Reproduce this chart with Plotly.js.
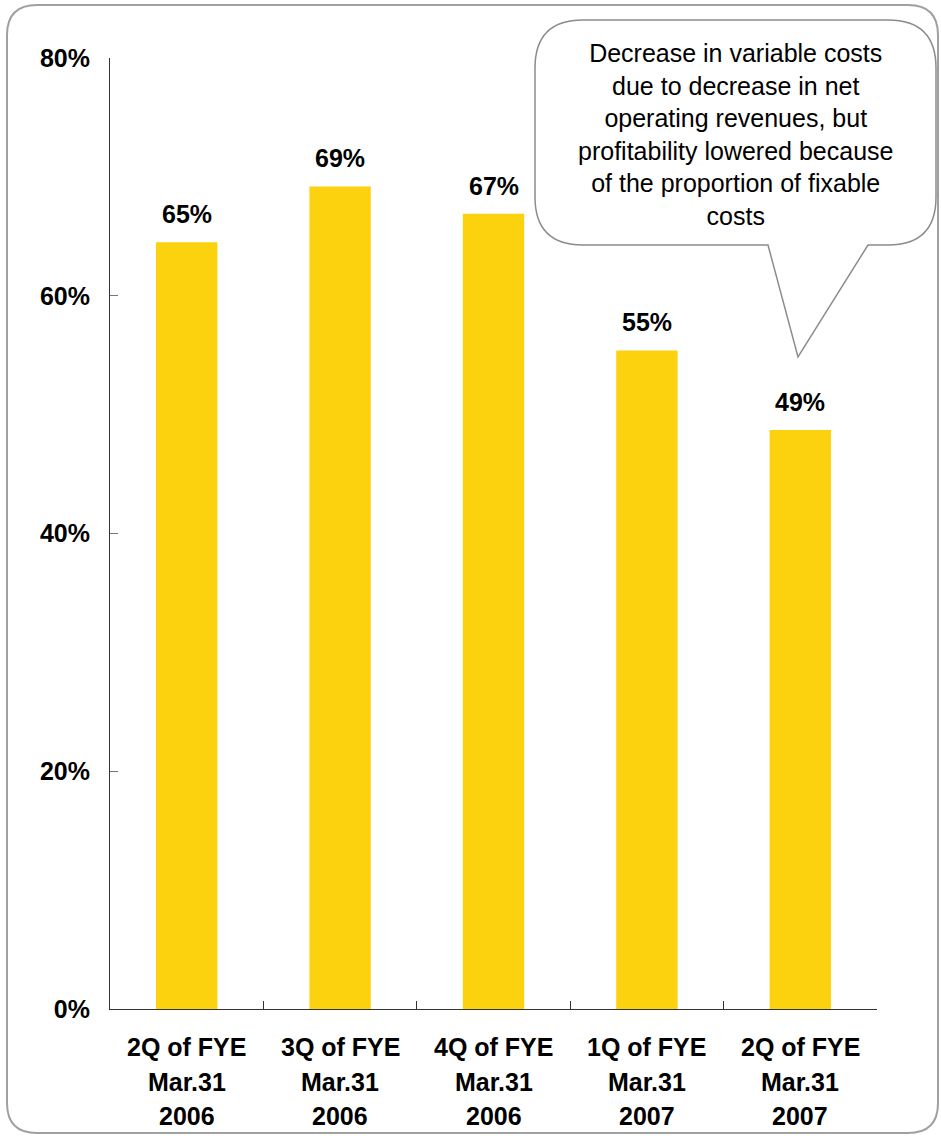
<!DOCTYPE html>
<html>
<head>
<meta charset="utf-8">
<script src="https://cdn.plot.ly/plotly-3.0.1.min.js"></script>
<style>html,body{margin:0;padding:0;background:#fff;}#chart{width:941px;height:1136px;}</style>
</head>
<body>
<div id="chart"></div>
<script>
// ---- data ----
const categories = ["2Q of FYE<br>Mar.31<br>2006", "3Q of FYE<br>Mar.31<br>2006", "4Q of FYE<br>Mar.31<br>2006", "1Q of FYE<br>Mar.31<br>2007", "2Q of FYE<br>Mar.31<br>2007"];
const values = [64.5, 69.2, 66.9, 55.4, 48.7];
const valueLabels = ["65%", "69%", "67%", "55%", "49%"];
const yTickVals = [0, 20, 40, 60, 80];
const yTickText = ["0%", "20%", "40%", "60%", "80%"];
const calloutLines = ["Decrease in variable costs", "due to decrease in net", "operating revenues, but", "profitability lowered because", "of the proportion of fixable", "costs"];

// ---- layout geometry ----
const W = 941, H = 1136;
const M = {l: 110, r: 64, t: 58, b: 127};
const PW = W - M.l - M.r, PH = H - M.t - M.b;
const px = x => (x - M.l) / PW;
const py = y => (H - M.b - y) / PH;
const FONT = "Liberation Sans, Arial, Helvetica, sans-serif";

function roundRectPath(x0, y0, x1, y1, r, tail) {
  let p = `M${px(x0 + r)},${py(y0)} L${px(x1 - r)},${py(y0)} Q${px(x1)},${py(y0)} ${px(x1)},${py(y0 + r)} `;
  p += `L${px(x1)},${py(y1 - r)} Q${px(x1)},${py(y1)} ${px(x1 - r)},${py(y1)} `;
  if (tail) {
    p += `L${px(tail[2])},${py(y1)} L${px(tail[1][0])},${py(tail[1][1])} L${px(tail[0])},${py(y1)} `;
  }
  p += `L${px(x0 + r)},${py(y1)} Q${px(x0)},${py(y1)} ${px(x0)},${py(y1 - r)} `;
  p += `L${px(x0)},${py(y0 + r)} Q${px(x0)},${py(y0)} ${px(x0 + r)},${py(y0)} Z`;
  return p;
}

const shapes = [
  {type: "path", xref: "paper", yref: "paper", layer: "below",
   path: roundRectPath(7, 5, 938, 1133, 30), line: {color: "#A0A0A0", width: 2}, fillcolor: "rgba(0,0,0,0)"},
  {type: "path", xref: "paper", yref: "paper", layer: "above",
   path: roundRectPath(535, 20, 936, 245, 48, [768, [798, 357], 868]), line: {color: "#8C8C8C", width: 1.5}, fillcolor: "#FFFFFF"}
];

const annotations = [];
// value labels
categories.forEach((c, i) => {
  annotations.push({x: c, y: values[i], xref: "x", yref: "y", text: valueLabels[i], showarrow: false,
    yanchor: "bottom", yshift: 12, font: {family: FONT, size: 25, color: "#000", weight: 700}});
});
// category labels, one annotation per line
const lineOffsets = [-38, -73, -107];
categories.forEach((c) => {
  c.split("<br>").forEach((t, k) => {
    annotations.push({x: c, y: 0, xref: "x", yref: "paper", text: t, showarrow: false,
      yanchor: "middle", yshift: lineOffsets[k], font: {family: FONT, size: 25, color: "#000", weight: 700}});
  });
});
// callout text
annotations.push({x: px(735), y: py(134.5), xref: "paper", yref: "paper", text: calloutLines.join("<br>"),
  showarrow: false, align: "center", xanchor: "center", yanchor: "middle",
  font: {family: FONT, size: 25, color: "#000"}});

const trace = {
  type: "bar", x: categories, y: values, width: 0.4,
  marker: {color: "#FCD10D", line: {width: 0}}, hoverinfo: "skip"
};

const layout = {
  width: W, height: H, margin: M, paper_bgcolor: "#fff", plot_bgcolor: "#fff",
  showlegend: false, font: {family: FONT},
  xaxis: {type: "category", range: [-0.5, 4.5], showticklabels: false, tickson: "boundaries",
    ticks: "inside", ticklen: 8, tickcolor: "#333", tickwidth: 1, showline: true, linecolor: "#333", linewidth: 1,
    showgrid: false, zeroline: false, fixedrange: true},
  yaxis: {range: [0, 80], tickvals: yTickVals, ticktext: yTickText, ticks: "inside", ticklen: 8,
    tickcolor: "#777", tickwidth: 1, showline: true, linecolor: "#333", linewidth: 1, showgrid: false,
    zeroline: false, ticklabelstandoff: 14,
    tickfont: {family: FONT, size: 25, color: "#000", weight: 700}, fixedrange: true},
  shapes: shapes, annotations: annotations
};

Plotly.newPlot("chart", [trace], layout, {staticPlot: true, displayModeBar: false});
</script>
</body>
</html>
